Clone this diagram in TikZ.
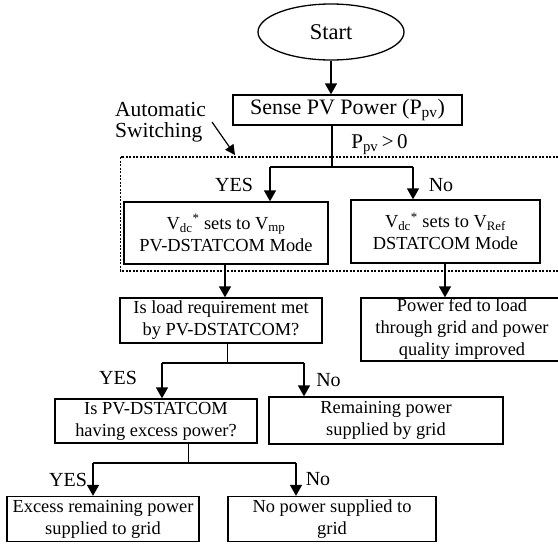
\documentclass[tikz,border=0pt]{standalone}
\usepackage{fontspec}
\setmainfont{Liberation Serif}
\usetikzlibrary{arrows.meta,shapes.geometric}
\newcommand{\boxfont}{\fontsize{18.4}{22}\selectfont}
\newcommand{\lblfont}{\fontsize{20}{22}\selectfont}
\begin{document}
\begin{tikzpicture}[x=1pt,y=-1pt,
  ln/.style={line width=1.3pt},
  arr/.style={line width=1.3pt,-{Triangle[length=11pt,width=12pt]}},
  flowbox/.style={draw,line width=1.3pt,inner sep=0pt,align=center,font=\boxfont},
  lbl/.style={inner sep=0pt,font=\lblfont},
  dotbox/.style={line width=1.2pt,dash pattern=on 2pt off 1.5pt}]
\useasboundingbox (0,0) rectangle (558,544);
\clip (0,0) rectangle (558,544);
\fill[white] (0,0) rectangle (558,544);
% nodes
\node[flowbox,ellipse,minimum width=146pt,minimum height=56pt,font=\fontsize{22.5}{24}\selectfont] (start) at (331,32) {Start};
\node[flowbox,minimum width=229pt,minimum height=30pt,font=\fontsize{22}{24}\selectfont] (sense) at (347.5,110) {Sense PV Power (P\textsubscript{pv})};
\node[flowbox,minimum width=204pt,minimum height=62pt] (vmp) at (226,233) {V\textsubscript{dc}\textsuperscript{*} sets to V\textsubscript{mp}\\PV-DSTATCOM Mode};
\node[flowbox,minimum width=189pt,minimum height=63pt] (vref) at (445.5,231.5) {V\textsubscript{dc}\textsuperscript{*} sets to V\textsubscript{Ref}\\DSTATCOM Mode};
\node[flowbox,minimum width=202pt,minimum height=45pt] (load) at (221,320.5) {Is load requirement met\\by PV-DSTATCOM?};
\node[flowbox,minimum width=202pt,minimum height=63pt] (fed) at (462,329.5) {Power fed to load\\through grid and power\\quality improved};
\node[flowbox,minimum width=202pt,minimum height=44pt] (excessq) at (156,421) {Is PV-DSTATCOM\\having excess power?};
\node[flowbox,minimum width=234pt,minimum height=47pt] (remain) at (386,420.5) {Remaining power\\supplied by grid};
\node[flowbox,minimum width=192pt,minimum height=45pt] (excess) at (103,519) {Excess remaining power\\supplied to grid};
\node[flowbox,minimum width=208pt,minimum height=45pt] (nopower) at (332,519) {No power supplied to\\grid};
% dotted switching region
\draw[dotbox] (120.7,157) rectangle (600,271);
% labels
\node[inner sep=0pt,align=left,anchor=north west,font=\fontsize{21.5}{21}\selectfont] (auto) at (115,102) {Automatic\\Switching};
\node[lbl,anchor=base,font=\fontsize{21}{22}\selectfont] (ppv) at (379.5,148) {P\textsubscript{pv}\,>\,0};
\node[lbl] (yes1) at (234,185) {YES};
\node[lbl] (no1) at (441,185) {No};
\node[lbl] (yes2) at (118,378) {YES};
\node[lbl] (no2) at (328.5,380) {No};
\node[lbl] (yes3) at (68,480) {YES};
\node[lbl] (no3) at (318,479) {No};
% coordinates
\coordinate (autoarrowend) at (235,155);
\coordinate (autoarrowbeg) at (212,122);
\coordinate (s1) at (332,167);
\coordinate (sL) at (270,167);
\coordinate (sR) at (413,167);
\coordinate (l1) at (227.5,363);
\coordinate (lL) at (162,363);
\coordinate (lR) at (304,363);
\coordinate (e1) at (188.5,463);
\coordinate (eL) at (93,463);
\coordinate (eR) at (296,463);
% connectors
\draw[arr] (start.south) -- (start.south |- sense.north);
\draw[ln] (s1 |- sense.south) -- (s1);
\draw[ln] (sL) -- (sR);
\draw[arr] (sL) -- (sL |- vmp.north);
\draw[arr] (sR) -- (sR |- vref.north);
\draw[arr] (vmp.south -| 225,0) -- (load.north -| 225,0);
\draw[arr] (vref.south -| 445,0) -- (fed.north -| 445,0);
\draw[ln] (l1 |- load.south) -- (l1);
\draw[ln] (lL) -- (lR);
\draw[arr] (lL) -- (lL |- excessq.north);
\draw[arr] (lR) -- (lR |- remain.north);
\draw[ln] (e1 |- excessq.south) -- (e1);
\draw[ln] (eL) -- (eR);
\draw[arr] (eL) -- (eL |- excess.north);
\draw[arr] (eR) -- (eR |- nopower.north);
\draw[line width=1.2pt,-{Triangle[length=10pt,width=10pt]}] (autoarrowbeg) -- (autoarrowend);
\end{tikzpicture}
\end{document}
